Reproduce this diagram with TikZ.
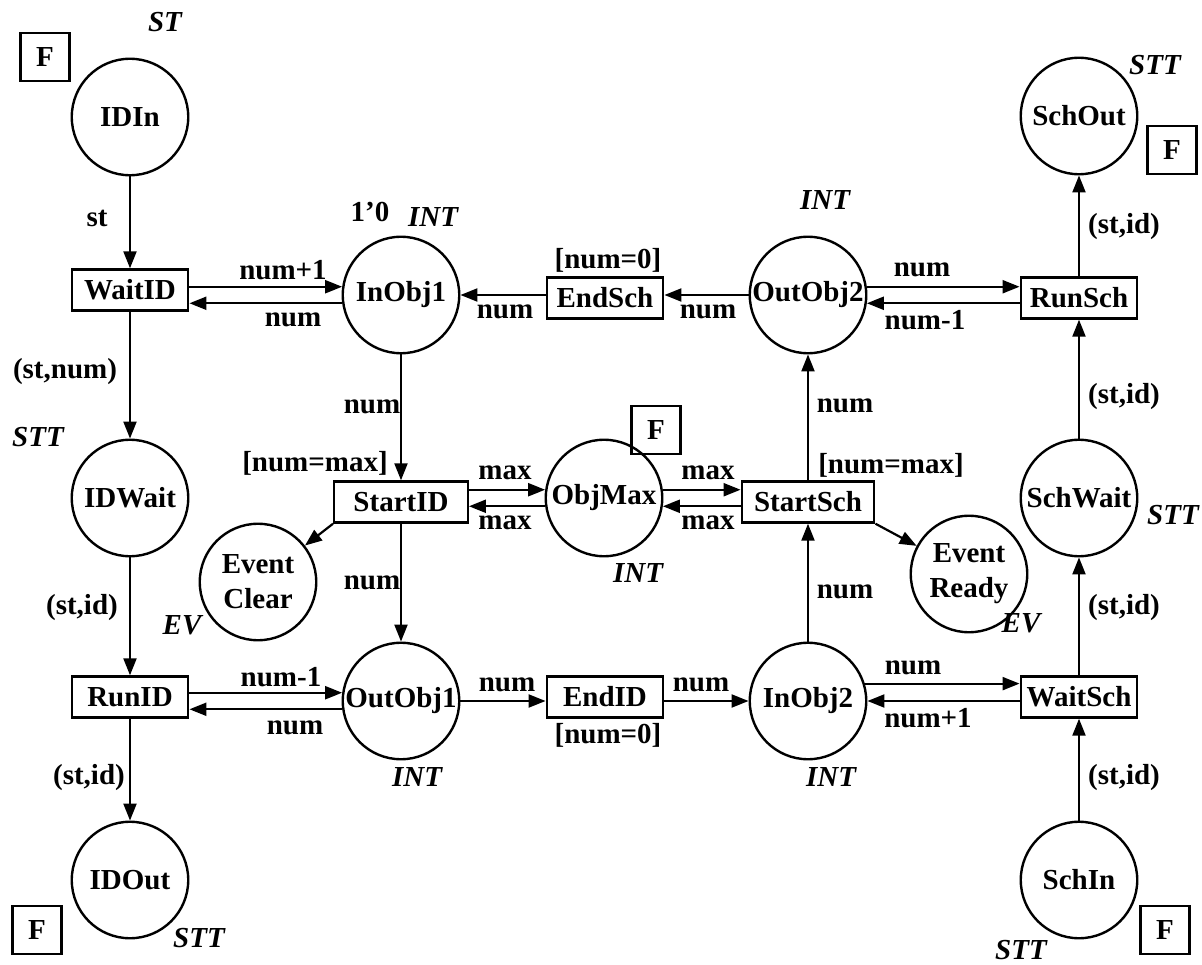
\documentclass[tikz,border=0pt]{standalone}
\usepackage{fontspec}
\setmainfont{Liberation Serif}
\usetikzlibrary{arrows.meta}
\tikzset{
  base/.style={font=\fontsize{29}{35}\selectfont\bfseries},
  place/.style={base, circle, draw, line width=2.4pt, minimum size=116.5pt, inner sep=0pt, align=center},
  trans/.style={base, rectangle, draw, line width=2.4pt, minimum height=41pt, minimum width=116.5pt, inner sep=0pt},
  fusion/.style={base, rectangle, draw, line width=2.4pt, minimum width=49pt, minimum height=48.5pt, inner sep=0pt},
  lbl/.style={base, inner sep=0pt},
  ital/.style={lbl, font=\fontsize{29}{35}\selectfont\bfseries\itshape},
  arr/.style={-{Triangle[length=17pt,width=13pt]}, line width=2.2pt},
}
\begin{document}
\begin{tikzpicture}[x=1pt,y=-1pt]
\useasboundingbox[fill=white] (0,0) rectangle (1202,965);

% places
\node[place] (IDIn) at (130,117) {IDIn};
\node[place] (IDWait) at (130,498) {IDWait};
\node[place] (IDOut) at (130,880) {IDOut};
\node[place] (InObj1) at (401,295) {InObj1};
\node[place] (OutObj1) at (401,701) {OutObj1};
\node[place] (EventClear) at (258,582) {Event\\Clear};
\node[place] (ObjMax) at (604,498) {ObjMax};
\node[place] (OutObj2) at (808,295) {OutObj2};
\node[place] (InObj2) at (808,701) {InObj2};
\node[place] (EventReady) at (969,574) {Event\\Ready};
\node[place] (SchOut) at (1079,116) {SchOut};
\node[place] (SchWait) at (1079,498) {SchWait};
\node[place] (SchIn) at (1079,880) {SchIn};

% transitions
\node[trans] (WaitID) at (130,290) {WaitID};
\node[trans] (RunID) at (130,697) {RunID};
\node[trans, minimum width=133.5pt] (StartID) at (401,502) {StartID};
\node[trans] (EndSch) at (605,298) {EndSch};
\node[trans] (EndID) at (605,697) {EndID};
\node[trans, minimum width=132.5pt] (StartSch) at (808,502) {StartSch};
\node[trans] (RunSch) at (1079,298) {RunSch};
\node[trans] (WaitSch) at (1079,697) {WaitSch};

% fusion tags
\node[fusion] (F1) at (45,57) {F};
\node[fusion] (F2) at (656,430) {F};
\node[fusion] (F3) at (1172,150) {F};
\node[fusion] (F4) at (37,930) {F};
\node[fusion] (F5) at (1165,930) {F};

% arcs - left column
\draw[arr] (IDIn.south) -- (WaitID.north);
\draw[arr] (WaitID.south) -- (IDWait.north);
\draw[arr] (IDWait.south) -- (RunID.north);
\draw[arr] (RunID.south) -- (IDOut.north);
% WaitID <-> InObj1
\draw[arr] (WaitID.east |- InObj1.172) -- (InObj1.172);
\draw[arr] (InObj1.188) -- (WaitID.east |- InObj1.188);
% top row
\draw[arr] (OutObj2.west) -- (EndSch.east |- OutObj2.west);
\draw[arr] (EndSch.west |- InObj1.east) -- (InObj1.east);
\draw[arr] (OutObj2.8) -- (RunSch.west |- OutObj2.8);
\draw[arr] (RunSch.west |- OutObj2.-8) -- (OutObj2.-8);
% InObj1 column
\draw[arr] (InObj1.south) -- (StartID.north);
\draw[arr] (StartID.south) -- (OutObj1.north);
\draw[arr] (StartID.south west) -- (EventClear);
% ObjMax
\draw[arr] (StartID.east |- ObjMax.172) -- (ObjMax.172);
\draw[arr] (ObjMax.188) -- (StartID.east |- ObjMax.188);
\draw[arr] (ObjMax.8) -- (StartSch.west |- ObjMax.8);
\draw[arr] (StartSch.west |- ObjMax.-8) -- (ObjMax.-8);
% right-middle column
\draw[arr] (StartSch.north) -- (OutObj2.south);
\draw[arr] (InObj2.north) -- (StartSch.south);
\draw[arr] (StartSch.south east) -- (EventReady);
% bottom row
\draw[arr] (RunID.east |- OutObj1.172) -- (OutObj1.172);
\draw[arr] (OutObj1.188) -- (RunID.east |- OutObj1.188);
\draw[arr] (OutObj1.east) -- (EndID.west |- OutObj1.east);
\draw[arr] (EndID.east |- InObj2.west) -- (InObj2.west);
\draw[arr] (InObj2.17) -- (WaitSch.west |- InObj2.17);
\draw[arr] (WaitSch.west |- InObj2.east) -- (InObj2.east);
% far right column
\draw[arr] (SchIn.north) -- (WaitSch.south);
\draw[arr] (WaitSch.north) -- (SchWait.south);
\draw[arr] (SchWait.north) -- (RunSch.south);
\draw[arr] (RunSch.north) -- (SchOut.south);

% colour set labels
\node[ital] (t1) at (165,22) {ST};
\node[ital] (t2) at (433,217) {INT};
\node[ital] (t3) at (38,437) {STT};
\node[ital] (t4) at (638,573) {INT};
\node[ital] (t5) at (182,625) {EV};
\node[ital] (t6) at (1021,623) {EV};
\node[ital] (t7) at (825,200) {INT};
\node[ital] (t8) at (1155,65) {STT};
\node[ital] (t9) at (1173,515) {STT};
\node[ital] (t10) at (417,777) {INT};
\node[ital] (t11) at (831,777) {INT};
\node[ital] (t12) at (199,938) {STT};
\node[ital] (t13) at (1021,950) {STT};

% arc inscriptions and guards
\node[lbl] (a1) at (97,218) {st};
\node[lbl] (a2) at (370,212) {1’0};
\node[lbl] (a3) at (283,270) {num+1};
\node[lbl] (a4) at (293,320) {num};
\node[lbl] (a5) at (65,372) {(st,num)};
\node[lbl] (a6) at (372,407) {num};
\node[lbl] (a7) at (315,463) {[num=max]};
\node[lbl] (a8) at (505,473) {max};
\node[lbl] (a9) at (505,523) {max};
\node[lbl] (a10) at (708,473) {max};
\node[lbl] (a11) at (708,523) {max};
\node[lbl] (a12) at (845,406) {num};
\node[lbl] (a13) at (891,465) {[num=max]};
\node[lbl] (a14) at (845,592) {num};
\node[lbl] (a15) at (82,608) {(st,id)};
\node[lbl] (a16) at (372,583) {num};
\node[lbl] (a17) at (608,260) {[num=0]};
\node[lbl] (a18) at (505,312) {num};
\node[lbl] (a19) at (708,312) {num};
\node[lbl] (a20) at (922,270) {num};
\node[lbl] (a21) at (925,320) {num-1};
\node[lbl] (a22) at (1124,227) {(st,id)};
\node[lbl] (a23) at (1124,397) {(st,id)};
\node[lbl] (a24) at (1124,608) {(st,id)};
\node[lbl] (a25) at (281,677) {num-1};
\node[lbl] (a26) at (295,728) {num};
\node[lbl] (a27) at (507,685) {num};
\node[lbl] (a28) at (608,735) {[num=0]};
\node[lbl] (a29) at (701,685) {num};
\node[lbl] (a30) at (913,668) {num};
\node[lbl] (a31) at (928,718) {num+1};
\node[lbl] (a32) at (89,778) {(st,id)};
\node[lbl] (a33) at (1124,778) {(st,id)};
\end{tikzpicture}
\end{document}
